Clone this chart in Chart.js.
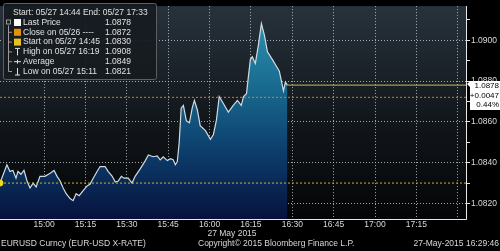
<!DOCTYPE html>
<html>
<head>
<meta charset="utf-8">
<script src="https://cdn.jsdelivr.net/npm/chart.js@4"></script>
<style>
  html, body { margin: 0; padding: 0; background: #000; }
  #wrap { width: 500px; height: 251px; position: relative; }
</style>
</head>
<body>
<div id="wrap"><canvas id="myChart" width="500" height="251"></canvas></div>
<script>
// minutes after 14:44 on 27 May 2015
const minutes = [0, 2.5, 3.6, 4.7, 5.8, 6.5, 7.6, 8.7, 9.8, 10.9, 12, 13.1, 14.5, 16.3, 18.2, 19.6, 20.7, 21.8, 22.9, 24, 25.4, 26.5, 27.6, 28.7, 30.1, 31.6, 32.7, 33.8, 35.2, 36.3, 38.1, 39.2, 40.7, 41.8, 42.9, 44, 45, 46.5, 47.9, 49, 50.9, 52.7, 53.8, 55.6, 57, 58.1, 59.2, 60.7, 61.8, 62.8, 63.6, 64.3, 65, 65.7, 66.5, 67.6, 68.7, 69.7, 70.5, 71.6, 72.6, 74.5, 76.3, 77.4, 78.5, 79.5, 81, 82.8, 84.6, 86.1, 87.5, 88.3, 89.4, 90.1, 90.8, 91.5, 92.6, 93.7, 94.8, 95.9, 97, 98.8, 100.3, 101.3, 102.8, 103.5, 104.2];
const prices = [1.0830, 1.0839, 1.08357, 1.08362, 1.08324, 1.08357, 1.08343, 1.08362, 1.0831, 1.08276, 1.0830, 1.08281, 1.08333, 1.08333, 1.08348, 1.08362, 1.08333, 1.0831, 1.08276, 1.08248, 1.08224, 1.08214, 1.08248, 1.08238, 1.08262, 1.08286, 1.08295, 1.08324, 1.08357, 1.08381, 1.08381, 1.08357, 1.08333, 1.08305, 1.0831, 1.08333, 1.08324, 1.08324, 1.0830, 1.08333, 1.08371, 1.0841, 1.08438, 1.08429, 1.08433, 1.08414, 1.08429, 1.0841, 1.08419, 1.08414, 1.0839, 1.08405, 1.085, 1.08667, 1.08681, 1.08605, 1.08595, 1.08667, 1.08705, 1.08657, 1.08581, 1.08557, 1.08514, 1.08538, 1.0861, 1.08724, 1.0869, 1.08648, 1.08681, 1.08705, 1.08681, 1.08724, 1.08738, 1.08824, 1.08905, 1.08919, 1.08886, 1.08976, 1.09081, 1.09024, 1.08943, 1.08905, 1.08871, 1.08848, 1.08752, 1.08795, 1.0878];

const xTickMinutes = [16, 31, 46, 61, 76, 91, 106, 121, 136, 151, 166];
const xTickLabels = ["15:00", "15:15", "15:30", "15:45", "16:00", "16:15", "16:30", "16:45", "17:00", "17:15", ""];
const yTickValues = [1.0820, 1.0830, 1.0840, 1.0850, 1.0860, 1.0870, 1.0880, 1.0890, 1.0900, 1.0910];
const yTickLabels = ["1.0820", "", "1.0840", "", "1.0860", "", "1.0880", "", "1.0900", ""];

const lastPrice = 1.0878;
const prevClose = 1.0872;
const startPrice = 1.0830;
const legendRows = [
  ["Last Price", "1.0878"],
  ["Close on 05/26 ----", "1.0872"],
  ["Start on 05/27 14:45", "1.0830"],
  ["High on 05/27 16:19", "1.0908"],
  ["Average", "1.0849"],
  ["Low on 05/27 15:11", "1.0821"]
];
const lastBox = ["1.0878", "+0.0047", "0.44%"];

const FONT = "'Liberation Sans', Arial, sans-serif";
Chart.defaults.font.family = FONT;
Chart.defaults.font.size = 8.5;
Chart.defaults.color = "#d8d8d8";

const minX = 0, maxX = 169;
const endX = minutes[minutes.length - 1];

const bgPlugin = {
  id: "bg",
  beforeDraw(chart) {
    const { ctx, chartArea: a } = chart;
    ctx.save();
    ctx.fillStyle = "#000";
    ctx.fillRect(0, 0, chart.width, chart.height);
    const g = ctx.createLinearGradient(0, a.top, 0, a.bottom);
    g.addColorStop(0, "#27323c");
    g.addColorStop(0.5, "#13181d");
    g.addColorStop(1, "#040506");
    ctx.fillStyle = g;
    ctx.fillRect(a.left, a.top, a.right - a.left, a.bottom - a.top);
    ctx.restore();
  },
  afterDraw(chart) {
    const { ctx, chartArea: a, scales } = chart;
    ctx.save();
    // axis lines
    ctx.strokeStyle = "#e8e8e8";
    ctx.lineWidth = 1;
    ctx.beginPath();
    ctx.moveTo(a.left, a.bottom + 0.5);
    ctx.lineTo(a.right + 0.5, a.bottom + 0.5);
    ctx.lineTo(a.right + 0.5, a.top);
    ctx.stroke();

    // last price box
    const yl = scales.y.getPixelForValue(lastPrice);
    const bx = a.right + 1, bw = chart.width - bx, by = yl - 4, bh = 29;
    ctx.fillStyle = "#ffffff";
    ctx.beginPath();
    ctx.moveTo(bx, by + 3);
    ctx.lineTo(bx + 3, by);
    ctx.lineTo(bx + bw, by);
    ctx.lineTo(bx + bw, by + bh);
    ctx.lineTo(bx + 3, by + bh);
    ctx.lineTo(bx + 3, by + 6);
    ctx.closePath();
    ctx.fill();
    ctx.fillStyle = "#000";
    ctx.font = "8px " + FONT;
    ctx.textAlign = "right";
    ctx.textBaseline = "middle";
    lastBox.forEach((t, i) => ctx.fillText(t, chart.width - 1, by + 5 + i * 9.5));

    // legend box
    ctx.fillStyle = "rgba(22,27,32,0.92)";
    ctx.strokeStyle = "#5a5f66";
    ctx.beginPath();
    ctx.roundRect(3.5, 3.5, 153, 76, 2);
    ctx.fill();
    ctx.stroke();
    ctx.fillStyle = "#e0e0e0";
    ctx.textAlign = "left";
    ctx.font = "8.5px " + FONT;
    ctx.fillText("Start: 05/27 14:44 End: 05/27 17:33", 13, 13);
    const rowY = (i) => 22.5 + i * 9.8;
    // tree line
    ctx.strokeStyle = "#9a9a9a";
    ctx.beginPath();
    ctx.moveTo(8.5, rowY(0) + 3); ctx.lineTo(8.5, rowY(5)); ctx.lineTo(12, rowY(5));
    for (let i = 1; i < 5; i++) { ctx.moveTo(8.5, rowY(i)); ctx.lineTo(12, rowY(i)); }
    ctx.stroke();
    ctx.strokeRect(6.5, rowY(0) - 2.5, 4, 4);
    const sq = ["#ffffff", "#e8900c", "#e6c420"];
    legendRows.forEach((r, i) => {
      const y = rowY(i);
      if (i < 3) {
        ctx.fillStyle = sq[i];
        ctx.fillRect(14, y - 3.5, 7, 7);
      } else {
        ctx.strokeStyle = "#e0e0e0";
        ctx.beginPath();
        if (i === 3) { ctx.moveTo(15, y - 3.5); ctx.lineTo(20, y - 3.5); ctx.moveTo(17.5, y - 3.5); ctx.lineTo(17.5, y + 3.5); }
        if (i === 4) { ctx.moveTo(14, y); ctx.lineTo(21, y); ctx.moveTo(17.5, y - 2); ctx.lineTo(17.5, y + 2); }
        if (i === 5) { ctx.moveTo(15, y + 3.5); ctx.lineTo(20, y + 3.5); ctx.moveTo(17.5, y - 3.5); ctx.lineTo(17.5, y + 3.5); }
        ctx.stroke();
      }
      ctx.fillStyle = "#e0e0e0";
      ctx.fillText(r[0], 23, y);
      ctx.fillText(r[1], 105, y);
    });

    // footer
    ctx.fillStyle = "#d8d8d8";
    ctx.textBaseline = "middle";
    ctx.textAlign = "left";
    ctx.fillText("EURUSD Curncy (EUR-USD X-RATE)", 1, 244);
    ctx.fillText("Copyright\u00A9 2015 Bloomberg Finance L.P.", 198, 244);
    ctx.textAlign = "center";
    ctx.fillText("27 May 2015", 232, 234);
    ctx.textAlign = "right";
    ctx.fillText("27-May-2015 16:29:46", 499, 244);
    ctx.restore();
  }
};

const ctx = document.getElementById("myChart").getContext("2d");
new Chart(ctx, {
  type: "line",
  data: {
    datasets: [
      {
        label: "Last Price",
        data: minutes.map((m, i) => ({ x: m, y: prices[i] })),
        borderColor: "#cfdbe3",
        borderWidth: 1.2,
        pointRadius: 0,
        tension: 0,
        fill: "start",
        backgroundColor: (c) => {
          const a = c.chart.chartArea;
          if (!a) return "#1d7396";
          const g = c.chart.ctx.createLinearGradient(0, a.top, 0, a.bottom);
          g.addColorStop(0, "#2f9ab5");
          g.addColorStop(0.35, "#1a6e92");
          g.addColorStop(0.7, "#0c3b6a");
          g.addColorStop(1, "#06123c");
          return g;
        },
        order: 3
      },
      {
        label: "Close",
        data: [{ x: minX, y: prevClose }, { x: maxX, y: prevClose }],
        borderColor: "#c8841c",
        borderWidth: 1,
        borderDash: [2, 2],
        pointRadius: 0,
        fill: false,
        order: 1
      },
      {
        label: "Start",
        data: [{ x: minX, y: startPrice }, { x: maxX, y: startPrice }],
        borderColor: "#c9b426",
        borderWidth: 1,
        borderDash: [2, 2],
        pointRadius: 0,
        fill: false,
        order: 1
      },
      {
        label: "Last",
        data: [{ x: endX, y: lastPrice }, { x: maxX, y: lastPrice }],
        borderColor: "#c8b85a",
        borderWidth: 1,
        pointRadius: 0,
        fill: false,
        order: 1
      },
      {
        label: "Start point",
        data: [{ x: minutes[0], y: startPrice }],
        backgroundColor: "#f0d820",
        borderColor: "#f0d820",
        pointRadius: 3,
        showLine: false,
        order: 0
      }
    ]
  },
  plugins: [bgPlugin],
  options: {
    responsive: false,
    animation: false,
    layout: { padding: 0, autoPadding: false },
    plugins: { legend: { display: false }, tooltip: { enabled: false } },
    scales: {
      x: {
        type: "linear",
        min: minX,
        max: maxX,
        z: 1,
        afterFit: (s) => { s.height = 32; },
        afterBuildTicks: (s) => { s.ticks = xTickMinutes.map((v) => ({ value: v })); },
        ticks: {
          autoSkip: false,
          maxRotation: 0,
          padding: 1,
          color: "#d8d8d8",
          callback: (v, i) => xTickLabels[i]
        },
        grid: { color: "rgba(190,195,200,0.85)", drawTicks: false, borderDash: [1, 2] },
        border: { display: false, dash: [1, 2] }
      },
      y: {
        position: "right",
        min: 1.08124,
        max: 1.09167,
        z: 1,
        afterFit: (s) => { s.width = 34; },
        afterBuildTicks: (s) => { s.ticks = yTickValues.map((v) => ({ value: v })); },
        ticks: {
          padding: 1,
          color: "#d8d8d8",
          callback: (v, i) => yTickLabels[i]
        },
        grid: {
          color: (c) => (yTickLabels[c.index] ? "rgba(190,195,200,0.85)" : "rgba(0,0,0,0)"),
          tickColor: "#e8e8e8",
          tickLength: 4,
          borderDash: [1, 2]
        },
        border: { display: false, dash: [1, 2] }
      }
    }
  }
});
</script>
</body>
</html>
